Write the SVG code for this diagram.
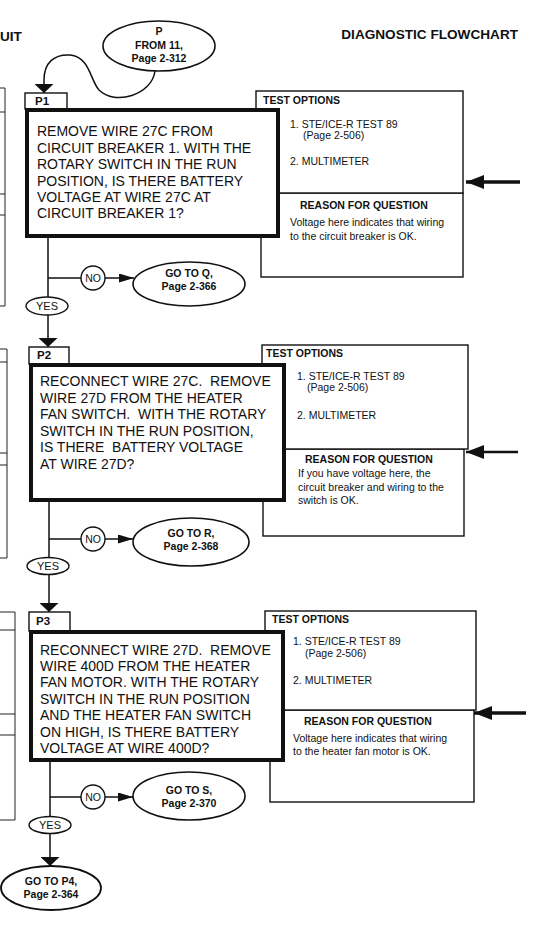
<svg xmlns="http://www.w3.org/2000/svg" width="538" height="939" viewBox="0 0 538 939">
<style>
.t{font-family:"Liberation Sans",Arial,Helvetica,sans-serif;fill:#111;white-space:pre}
.q{font-size:14px}
.hd{font-size:13.6px;font-weight:bold}
.b{font-size:10.5px;font-weight:bold}
.s{font-size:10.5px}
.y{font-size:11px}
.tab{font-size:11.5px;font-weight:bold}
.c{text-anchor:middle}
.box{fill:#fff;stroke:#111;stroke-width:4}
.thin{fill:#fff;stroke:#111;stroke-width:1.4}
.ln{fill:none;stroke:#111;stroke-width:1.5}
.edge{fill:none;stroke:#222;stroke-width:1}
.big{fill:none;stroke:#111;stroke-width:3.5}
</style>
<defs>
<marker id="ah" viewBox="0 0 20 10" markerWidth="9" markerHeight="19" refX="20" refY="5" orient="auto" markerUnits="userSpaceOnUse" preserveAspectRatio="none">
<path d="M0,0 L20,5 L0,10 z" fill="#111"/>
</marker>
<marker id="ahs" viewBox="0 0 20 10" markerWidth="15" markerHeight="9" refX="20" refY="5" orient="auto" markerUnits="userSpaceOnUse" preserveAspectRatio="none">
<path d="M0,0 L20,5 L0,10 z" fill="#111"/>
</marker>
<marker id="bigh" viewBox="0 0 20 10" markerWidth="18" markerHeight="14" refX="20" refY="5" orient="auto" markerUnits="userSpaceOnUse" preserveAspectRatio="none">
<path d="M0,0 L20,5 L0,10 z" fill="#111"/>
</marker>
</defs>
<rect width="538" height="939" fill="#fff"/>

<g id="header">
<text class="t hd" x="0" y="41">UIT</text>
<text class="t hd" x="518" y="39" text-anchor="end">DIAGNOSTIC FLOWCHART</text>
</g>

<g id="left-edge">
<path class="edge" d="M0,88 H5 V306 H0 M0,112 H5 M0,194 H5 M0,215 H5"/>
<path class="edge" d="M0,349 H7 V558 H0 M0,362 H7 M0,453 H7 M0,465 H7"/>
<path class="edge" d="M0,612 H15 V820 H0 M0,630 H15 M0,714 H15 M0,735 H15"/>
</g>

<g id="start-P">
<ellipse class="thin" cx="159" cy="46" rx="56" ry="25" style="stroke-width:1.6"/>
<text class="t b c" x="159" y="35">P</text>
<text class="t b c" x="159" y="49">FROM 11,</text>
<text class="t b c" x="159" y="62">Page 2-312</text>
</g>

<g id="test-options-1">
<rect class="thin" x="261" y="193" width="202" height="84"/>
<rect class="thin" x="256" y="91" width="207" height="102"/>
<text class="t b" x="263" y="104">TEST OPTIONS</text>
<text class="t s" x="290" y="128">1. STE/ICE-R TEST 89</text>
<text class="t s" x="303" y="139">(Page 2-506)</text>
<text class="t s" x="290" y="165">2. MULTIMETER</text>
<text class="t b" x="300" y="209">REASON FOR QUESTION</text>
<text class="t s" x="290" y="226">Voltage here indicates that wiring</text>
<text class="t s" x="290" y="240">to the circuit breaker is OK.</text>
</g>

<g id="P1">
<rect class="thin" x="25" y="93" width="42" height="16"/>
<text class="t tab" x="35" y="105">P1</text>
<rect class="box" x="27" y="110" width="251" height="126"/>
<text class="t q" x="37" y="136">REMOVE WIRE 27C FROM</text>
<text class="t q" x="37" y="152.5">CIRCUIT BREAKER 1. WITH THE</text>
<text class="t q" x="37" y="169">ROTARY SWITCH IN THE RUN</text>
<text class="t q" x="37" y="185.5">POSITION, IS THERE BATTERY</text>
<text class="t q" x="37" y="202">VOLTAGE AT WIRE 27C AT</text>
<text class="t q" x="37" y="218">CIRCUIT BREAKER 1?</text>
</g>

<g id="goto-Q">
<ellipse class="thin" cx="189" cy="284" rx="56" ry="22" style="stroke-width:1.6"/>
<text class="t b c" x="189" y="277">GO TO Q,</text>
<text class="t b c" x="189" y="290">Page 2-366</text>
</g>

<g id="test-options-2">
<rect class="thin" x="263" y="449" width="201" height="87"/>
<rect class="thin" x="262" y="345" width="206" height="104"/>
<text class="t b" x="266" y="357">TEST OPTIONS</text>
<text class="t s" x="297" y="380">1. STE/ICE-R TEST 89</text>
<text class="t s" x="307" y="391">(Page 2-506)</text>
<text class="t s" x="297" y="419">2. MULTIMETER</text>
<text class="t b" x="305" y="463">REASON FOR QUESTION</text>
<text class="t s" x="298" y="477">If you have voltage here, the</text>
<text class="t s" x="298" y="491">circuit breaker and wiring to the</text>
<text class="t s" x="298" y="504">switch is OK.</text>
</g>

<g id="P2">
<rect class="thin" x="29" y="347" width="40" height="17"/>
<text class="t tab" x="37" y="359">P2</text>
<rect class="box" x="31" y="365" width="253" height="135"/>
<text class="t q" x="40" y="386">RECONNECT WIRE 27C.  REMOVE</text>
<text class="t q" x="40" y="402.5">WIRE 27D FROM THE HEATER</text>
<text class="t q" x="40" y="419">FAN SWITCH.  WITH THE ROTARY</text>
<text class="t q" x="40" y="435.5">SWITCH IN THE RUN POSITION,</text>
<text class="t q" x="40" y="452">IS THERE  BATTERY VOLTAGE</text>
<text class="t q" x="40" y="468.5">AT WIRE 27D?</text>
</g>

<g id="goto-R">
<ellipse class="thin" cx="191" cy="542" rx="58" ry="24" style="stroke-width:1.6"/>
<text class="t b c" x="191" y="537">GO TO R,</text>
<text class="t b c" x="191" y="550">Page 2-368</text>
</g>

<g id="test-options-3">
<rect class="thin" x="270" y="710" width="204" height="92"/>
<rect class="thin" x="265" y="611" width="211" height="99"/>
<text class="t b" x="272" y="623">TEST OPTIONS</text>
<text class="t s" x="293" y="645">1. STE/ICE-R TEST 89</text>
<text class="t s" x="305" y="657">(Page 2-506)</text>
<text class="t s" x="293" y="684">2. MULTIMETER</text>
<text class="t b" x="304" y="725">REASON FOR QUESTION</text>
<text class="t s" x="293" y="742">Voltage here indicates that wiring</text>
<text class="t s" x="293" y="755">to the heater fan motor is OK.</text>
</g>

<g id="P3">
<rect class="thin" x="29" y="612" width="41" height="19"/>
<text class="t tab" x="36" y="625">P3</text>
<rect class="box" x="31" y="632" width="252" height="128"/>
<text class="t q" x="40" y="654.5">RECONNECT WIRE 27D.  REMOVE</text>
<text class="t q" x="40" y="671">WIRE 400D FROM THE HEATER</text>
<text class="t q" x="40" y="687.3">FAN MOTOR. WITH THE ROTARY</text>
<text class="t q" x="40" y="703.7">SWITCH IN THE RUN POSITION</text>
<text class="t q" x="40" y="720">AND THE HEATER FAN SWITCH</text>
<text class="t q" x="40" y="736.5">ON HIGH, IS THERE BATTERY</text>
<text class="t q" x="40" y="752.8">VOLTAGE AT WIRE 400D?</text>
</g>

<g id="goto-S">
<ellipse class="thin" cx="189" cy="796" rx="56" ry="24" style="stroke-width:1.6"/>
<text class="t b c" x="189" y="794">GO TO S,</text>
<text class="t b c" x="189" y="807">Page 2-370</text>
</g>

<g id="goto-P4">
<ellipse class="thin" cx="51" cy="888" rx="50" ry="22" style="stroke-width:1.8"/>
<text class="t b c" x="51" y="885">GO TO P4,</text>
<text class="t b c" x="51" y="898">Page 2-364</text>
</g>

<g id="connectors">
<path class="ln" d="M155,71 C152,95 115,106 99,90 C90,80 90,57 70,55 C55,54 44,62 44,80 L44,93" marker-end="url(#ah)"/>
<path class="big" d="M520,182 H466" marker-end="url(#bigh)"/>
<path class="big" d="M518,452 H466" marker-end="url(#bigh)" style="stroke-width:2.5"/>
<path class="big" d="M526,713 H474" marker-end="url(#bigh)"/>

<path class="ln" d="M48,238 V297.5 M48,278 H81"/>
<circle class="thin" cx="93" cy="278" r="12"/>
<text class="t s c" x="93" y="282">NO</text>
<path class="ln" d="M105,278 H134" marker-end="url(#ahs)"/>
<ellipse class="thin" cx="47" cy="306" rx="21" ry="9"/>
<text class="t y c" x="47" y="310">YES</text>
<path class="ln" d="M48,315 V347" marker-end="url(#ah)"/>

<path class="ln" d="M49,502 V557.5 M49,539 H81"/>
<circle class="thin" cx="93" cy="539" r="12"/>
<text class="t s c" x="93" y="543">NO</text>
<path class="ln" d="M105,539 H133" marker-end="url(#ahs)"/>
<ellipse class="thin" cx="48" cy="566" rx="21" ry="8.5"/>
<text class="t y c" x="48" y="570">YES</text>
<path class="ln" d="M49,574.5 V612" marker-end="url(#ah)"/>

<path class="ln" d="M50,762 V816.5 M50,797 H81"/>
<circle class="thin" cx="93" cy="797" r="12"/>
<text class="t s c" x="93" y="801">NO</text>
<path class="ln" d="M105,797 H133" marker-end="url(#ahs)"/>
<ellipse class="thin" cx="50" cy="825" rx="21" ry="8.5"/>
<text class="t y c" x="50" y="829">YES</text>
<path class="ln" d="M50,833.5 V866" marker-end="url(#ah)"/>
</g>
</svg>
